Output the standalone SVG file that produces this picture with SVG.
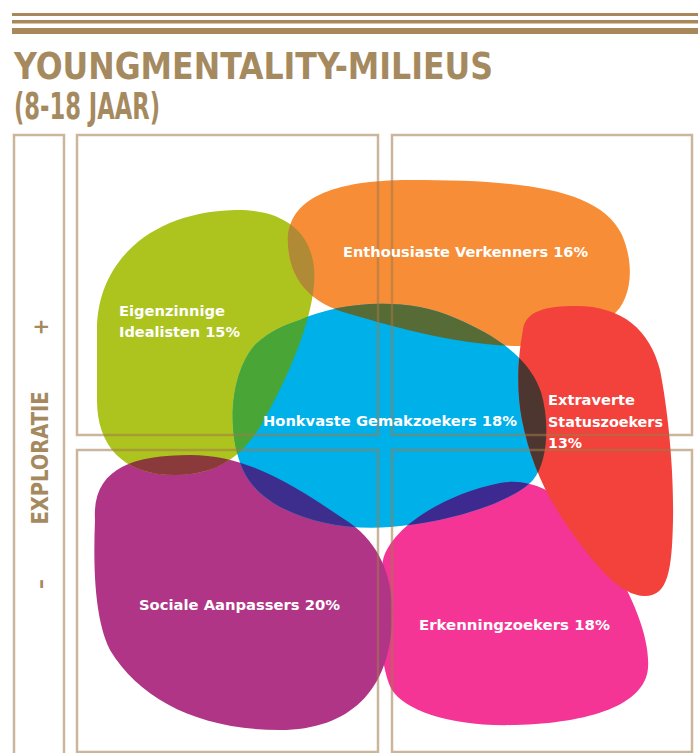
<svg xmlns="http://www.w3.org/2000/svg" xmlns:xlink="http://www.w3.org/1999/xlink" width="700" height="753" viewBox="0 0 700 753">
<style>
.frame{fill:none;stroke:#a07a48;stroke-opacity:0.55;stroke-width:2.5}
.title{font-family:"DejaVu Sans Condensed","Liberation Sans",sans-serif;font-weight:bold;fill:#a68a5f}
.lbl{font-family:"DejaVu Sans Condensed","Liberation Sans",sans-serif;font-weight:bold;font-size:14.5px;fill:#ffffff}
.rule{fill:#a8885a}
</style>
<defs>
<path id="pGreen" d="M97,330 C97,262 150,212 235,210 C292,209 318,240 314,285 C311,320 292,370 265,418 C244,458 215,475 175,475 C122,475 97,445 97,400 Z"/>
<path id="pOrange" d="M288,245 C285,200 330,180 410,180 C520,180 600,188 622,235 C635,265 632,300 612,316 C590,335 560,346 520,346 C460,346 390,326 340,311 C306,299 290,276 288,245 Z"/>
<path id="pBlue" d="M300,320 C340,302 405,296 455,318 C500,337 530,360 541,392 C550,422 548,462 533,480 C515,500 455,522 390,527 C330,532 262,512 243,470 C226,432 230,372 256,344 C270,331 285,325 300,320 Z"/>
<path id="pRed" d="M523,330 C525,311 546,306 576,306 C622,306 650,330 660,370 C668,410 674,470 673,520 C672,570 668,596 645,596 C620,596 595,565 570,530 C545,495 530,460 522,420 C516,390 518,355 523,330 Z"/>
<path id="pPurple" d="M95,520 C92,470 130,455 190,455 C252,455 300,490 350,523 C381,545 394,580 392,620 C390,690 350,730 280,730 C200,730 140,700 110,650 C95,620 93,570 95,520 Z"/>
<path id="pPink" d="M383,560 C390,530 440,495 500,483 C545,475 582,510 610,560 C635,600 650,640 648,668 C645,705 590,723 515,725 C450,727 405,710 392,690 C378,665 376,590 383,560 Z"/>
<clipPath id="cOrange"><use xlink:href="#pOrange"/></clipPath>
<clipPath id="cBlue"><use xlink:href="#pBlue"/></clipPath>
<clipPath id="cRed"><use xlink:href="#pRed"/></clipPath>
<clipPath id="cPurple"><use xlink:href="#pPurple"/></clipPath>
<clipPath id="cPink"><use xlink:href="#pPink"/></clipPath>
</defs>
<rect width="700" height="753" fill="#ffffff"/>
<g id="header">
<rect class="rule" x="12" y="13" width="686" height="3"/>
<rect class="rule" x="12" y="20" width="686" height="3.5"/>
<rect class="rule" x="12" y="28" width="686" height="6"/>
<text class="title" x="14" y="79" font-size="38" textLength="479" lengthAdjust="spacingAndGlyphs">YOUNGMENTALITY-MILIEUS</text>
<text class="title" x="14" y="119" font-size="38" textLength="146" lengthAdjust="spacingAndGlyphs">(8-18 JAAR)</text>
</g>
<g id="blobs">
<g id="erkenningzoekers"><use xlink:href="#pPink" fill="#f43596"/></g>
<g id="sociale-aanpassers"><use xlink:href="#pPurple" fill="#b03586"/></g>
<g id="eigenzinnige-idealisten"><use xlink:href="#pGreen" fill="#adc41e"/></g>
<g id="enthousiaste-verkenners"><use xlink:href="#pOrange" fill="#f78d36"/></g>
<g id="honkvaste-gemakzoekers"><use xlink:href="#pBlue" fill="#00b0e8"/></g>
<g id="extraverte-statuszoekers"><use xlink:href="#pRed" fill="#f2423b"/></g>
</g>
<g id="overlaps">
<use xlink:href="#pGreen" clip-path="url(#cOrange)" fill="#b08a35"/>
<use xlink:href="#pGreen" clip-path="url(#cBlue)" fill="#4aa537"/>
<use xlink:href="#pOrange" clip-path="url(#cBlue)" fill="#566b35"/>
<use xlink:href="#pBlue" clip-path="url(#cRed)" fill="#4d3530"/>
<use xlink:href="#pGreen" clip-path="url(#cPurple)" fill="#8a3a3a"/>
<use xlink:href="#pBlue" clip-path="url(#cPurple)" fill="#3d2e8e"/>
<use xlink:href="#pBlue" clip-path="url(#cPink)" fill="#3d2a90"/>
</g>
<g id="frames">
<rect class="frame" x="14" y="135" width="50" height="640"/>
<rect class="frame" x="77" y="135" width="301" height="300"/>
<rect class="frame" x="392" y="135" width="300" height="300"/>
<rect class="frame" x="77" y="450" width="301" height="302"/>
<rect class="frame" x="392" y="450" width="300" height="302"/>
</g>
<g id="axis">
<text class="title" font-size="23" text-anchor="middle" transform="translate(48,458) rotate(-90)" textLength="133" lengthAdjust="spacingAndGlyphs">EXPLORATIE</text>
<text class="title" font-size="22" text-anchor="middle" transform="translate(48,327) rotate(-90)">+</text>
<text class="title" font-size="22" text-anchor="middle" transform="translate(48,584) rotate(-90)">–</text>
</g>
<g id="labels">
<text class="lbl" x="119" y="316" textLength="106" lengthAdjust="spacingAndGlyphs">Eigenzinnige</text>
<text class="lbl" x="119" y="337" textLength="121" lengthAdjust="spacingAndGlyphs">Idealisten 15%</text>
<text class="lbl" x="343" y="257" textLength="245" lengthAdjust="spacingAndGlyphs">Enthousiaste Verkenners 16%</text>
<text class="lbl" x="263" y="426" textLength="254" lengthAdjust="spacingAndGlyphs">Honkvaste Gemakzoekers 18%</text>
<text class="lbl" x="548" y="405" textLength="87" lengthAdjust="spacingAndGlyphs">Extraverte</text>
<text class="lbl" x="548" y="427" textLength="115" lengthAdjust="spacingAndGlyphs">Statuszoekers</text>
<text class="lbl" x="548" y="448" textLength="34" lengthAdjust="spacingAndGlyphs">13%</text>
<text class="lbl" x="139" y="610" textLength="201" lengthAdjust="spacingAndGlyphs">Sociale Aanpassers 20%</text>
<text class="lbl" x="419" y="630" textLength="191" lengthAdjust="spacingAndGlyphs">Erkenningzoekers 18%</text>
</g>
</svg>
